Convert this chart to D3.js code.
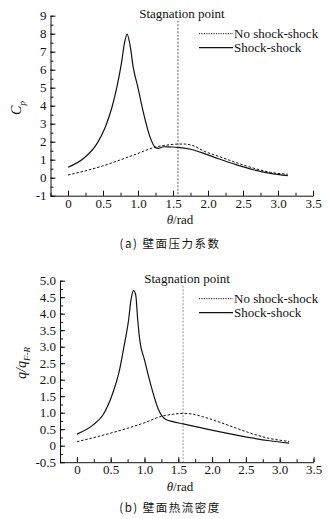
<!DOCTYPE html>
<html>
<head>
<meta charset="utf-8">
<script src="https://cdn.jsdelivr.net/npm/d3@7"></script>
<style>
  body { margin: 0; background: #fff; }
  svg { display: block; }
  text { font-family: "Liberation Serif", "Times New Roman", "DejaVu Serif", serif; fill: #111; }
  .cap { font-family: "Noto Sans CJK SC", sans-serif; }
</style>
</head>
<body>
<svg width="332" height="519"></svg>
<script>
// panel (a): wall pressure coefficient
const thetaA = [0, 0.225, 0.416, 0.535, 0.63, 0.70, 0.763, 0.806, 0.844, 0.89, 0.93, 0.996, 1.08, 1.17, 1.25, 1.29, 1.37, 1.45, 1.57, 1.75, 1.94, 2.15, 2.41, 2.65, 2.89, 3.14];
const cpShock = [0.58, 1.08, 1.91, 2.83, 3.94, 5.06, 6.35, 7.46, 7.98, 7.28, 6.17, 5.06, 3.57, 2.28, 1.67, 1.63, 1.72, 1.71, 1.69, 1.58, 1.35, 1.05, 0.71, 0.44, 0.24, 0.11];
const thetaA0 = [0, 0.46, 0.94, 1.27, 1.45, 1.58, 1.66, 1.80, 1.94, 2.15, 2.41, 2.65, 2.89, 3.14];
const cpNoShock = [0.15, 0.61, 1.26, 1.72, 1.83, 1.87, 1.87, 1.76, 1.48, 1.19, 0.83, 0.53, 0.30, 0.19];

// panel (b): wall heat flux
const thetaB = [0, 0.24, 0.385, 0.53, 0.63, 0.705, 0.765, 0.80, 0.84, 0.87, 0.90, 0.93, 1.00, 1.10, 1.20, 1.31, 1.42, 1.57, 1.86, 2.36, 2.85, 3.14];
const qShock = [0.35, 0.63, 0.93, 1.59, 2.29, 3.10, 3.81, 4.42, 4.70, 4.57, 3.81, 3.20, 2.60, 1.79, 1.13, 0.80, 0.73, 0.66, 0.53, 0.32, 0.15, 0.08];
const thetaB0 = [0, 0.48, 0.98, 1.27, 1.45, 1.57, 1.70, 1.86, 2.10, 2.36, 2.60, 2.85, 3.14];
const qNoShock = [0.12, 0.37, 0.68, 0.90, 0.96, 0.98, 0.96, 0.88, 0.72, 0.53, 0.36, 0.22, 0.13];

const xTicks = [0, 0.5, 1.0, 1.5, 2.0, 2.5, 3.0, 3.5];
const yTicksA = [-1, 0, 1, 2, 3, 4, 5, 6, 7, 8, 9];
const yTicksB = [-0.5, 0, 0.5, 1.0, 1.5, 2.0, 2.5, 3.0, 3.5, 4.0, 4.5, 5.0];
const stagnation = Math.PI / 2;

const serif = '"Liberation Serif", "Times New Roman", serif';
const svg = d3.select('svg');

function drawPanel(p) {
  const x = d3.scaleLinear().domain([-0.25, 3.5]).range(p.xr);
  const y = d3.scaleLinear().domain(p.yd).range(p.yr);
  const g = svg.append('g');

  // x axis, ticks pointing inward
  const xMinor = d3.range(-0.25, 3.5001, 0.25);
  g.append('g').attr('transform', `translate(0,${p.yr[0]})`)
    .call(d3.axisBottom(x).tickValues(xMinor).tickSize(-3).tickFormat(''))
    .call(a => a.select('.domain').remove());
  g.append('g').attr('transform', `translate(0,${p.yr[0]})`)
    .call(d3.axisBottom(x).tickValues(xTicks).tickSize(-5).tickSizeOuter(0).tickPadding(3)
      .tickFormat(d => d === 0 ? '0' : d.toFixed(1)))
    .call(a => a.selectAll('text').attr('font-size', 13).attr('font-family', serif));

  // y axis
  const step = p.yTicks[1] - p.yTicks[0];
  const yMinor = d3.range(p.yd[0], p.yd[1] + 1e-6, step / 2);
  g.append('g').attr('transform', `translate(${p.xr[0]},0)`)
    .call(d3.axisLeft(y).tickValues(yMinor).tickSize(-3).tickFormat(''))
    .call(a => a.select('.domain').remove());
  g.append('g').attr('transform', `translate(${p.xr[0]},0)`)
    .call(d3.axisLeft(y).tickValues(p.yTicks).tickSize(-5).tickSizeOuter(0).tickPadding(4)
      .tickFormat(p.yFmt))
    .call(a => a.selectAll('text').attr('font-size', 13).attr('font-family', serif));
  g.selectAll('.domain').attr('stroke', '#111');
  g.selectAll('.tick line').attr('stroke', '#111');

  // stagnation line
  g.append('line')
    .attr('x1', x(stagnation)).attr('x2', x(stagnation))
    .attr('y1', p.yr[1] + 5).attr('y2', p.yr[0])
    .attr('stroke', p.stagColor).attr('stroke-width', 0.8).attr('stroke-dasharray', '2,1.5');
  g.append('text').attr('x', x(stagnation) + 4).attr('y', p.yr[1] + 2)
    .attr('text-anchor', 'middle').attr('font-size', 13).text('Stagnation point');

  const line = d3.line().x(d => x(d[0])).y(d => y(d[1])).curve(d3.curveMonotoneX);
  g.append('path').datum(d3.zip(p.t0, p.v0)).attr('d', line)
    .attr('fill', 'none').attr('stroke', '#111').attr('stroke-width', 1).attr('stroke-dasharray', '2.5,1.8');
  g.append('path').datum(d3.zip(p.t1, p.v1)).attr('d', line)
    .attr('fill', 'none').attr('stroke', '#111').attr('stroke-width', 1.2);

  // legend
  const lx = 199, ly = p.yr[1] + 18;
  g.append('line').attr('x1', lx).attr('x2', lx + 34).attr('y1', ly).attr('y2', ly)
    .attr('stroke', '#111').attr('stroke-dasharray', '1.2,1.2');
  g.append('text').attr('x', lx + 35).attr('y', ly + 4.5).attr('font-size', 13).text('No shock-shock');
  g.append('line').attr('x1', lx).attr('x2', lx + 34).attr('y1', ly + 14).attr('y2', ly + 14)
    .attr('stroke', '#111').attr('stroke-width', 1.2);
  g.append('text').attr('x', lx + 35).attr('y', ly + 18.5).attr('font-size', 13).text('Shock-shock');

  // axis titles
  const xt = g.append('text').attr('x', 180).attr('y', p.yr[0] + 28.5).attr('text-anchor', 'middle').attr('font-size', 13);
  xt.append('tspan').attr('font-style', 'italic').text('θ');
  xt.append('tspan').text('/rad');

  const yt = g.append('text').attr('transform', `translate(${p.ylx},${p.yly}) rotate(-90)`)
    .attr('text-anchor', 'middle').attr('font-size', 14).attr('font-style', 'italic');
  p.ylab(yt);

  g.append('text').attr('class', 'cap').attr('x', 170).attr('y', p.yr[0] + p.capDy)
    .attr('text-anchor', 'middle').attr('font-size', 11.5).attr('letter-spacing', 1.5).text(p.caption);
}

drawPanel({
  xr: [50.5, 313], yd: [-1, 9], yr: [195.7, 15.7], yTicks: yTicksA,
  yFmt: d => String(d), stagColor: '#333',
  t0: thetaA0, v0: cpNoShock, t1: thetaA, v1: cpShock,
  ylx: 21, yly: 108,
  ylab: t => { t.append('tspan').text('C'); t.append('tspan').attr('font-size', 9).attr('dy', 4).text('p'); },
  caption: '(a) 壁面压力系数', capDy: 52
});

drawPanel({
  xr: [60, 313.5], yd: [-0.5, 5], yr: [462.2, 280.7], yTicks: yTicksB,
  yFmt: d => d === 0 ? '0' : d.toFixed(1), stagColor: '#777',
  t0: thetaB0, v0: qNoShock, t1: thetaB, v1: qShock,
  ylx: 26, yly: 363,
  ylab: t => { t.append('tspan').text('q/q'); t.append('tspan').attr('font-size', 9).attr('dy', 4).text('F-R'); },
  caption: '(b) 壁面热流密度', capDy: 50
});
</script>
</body>
</html>
